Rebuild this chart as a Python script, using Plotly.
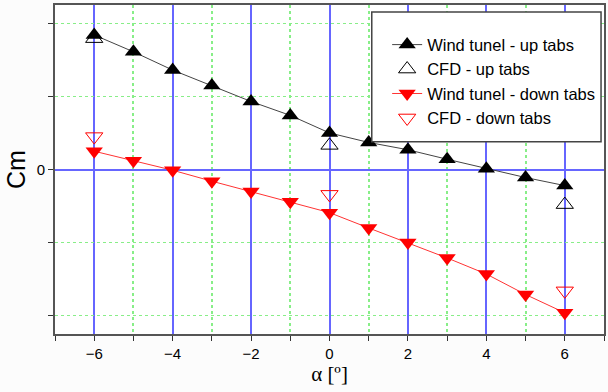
import plotly.graph_objects as go

alpha = [-6, -5, -4, -3, -2, -1, 0, 1, 2, 3, 4, 5, 6]
wt_up = [1.84, 1.61, 1.36, 1.15, 0.93, 0.74, 0.50, 0.37, 0.27, 0.14, 0.01, -0.11, -0.22]
wt_down = [0.25, 0.12, -0.01, -0.16, -0.30, -0.44, -0.59, -0.80, -1.00, -1.21, -1.43, -1.71, -1.96]
cfd_alpha = [-6, 0, 6]
cfd_up = [1.79, 0.33, -0.48]
cfd_down = [0.45, -0.34, -1.66]
x_ticks = [-6, -4, -2, 0, 2, 4, 6]
y_ticks = [-2, -1, 0, 1, 2]
y_ticktext = ["", "", "0", "", ""]

FONT = "Liberation Sans, Arial, sans-serif"
SERIF = "Liberation Serif, Times New Roman, serif"

fig = go.Figure()
fig.add_trace(go.Scatter(x=alpha, y=wt_up, mode="lines+markers", name="Wind tunel - up tabs",
                         line=dict(color="#444444", width=1),
                         marker=dict(symbol="triangle-up", size=15, color="black")))
fig.add_trace(go.Scatter(x=cfd_alpha, y=cfd_up, mode="markers", name="CFD - up tabs",
                         marker=dict(symbol="triangle-up-open", size=15, color="black",
                                     line=dict(width=1))))
fig.add_trace(go.Scatter(x=alpha, y=wt_down, mode="lines+markers", name="Wind tunel - down tabs",
                         line=dict(color="#ff3333", width=1),
                         marker=dict(symbol="triangle-down", size=15, color="red")))
fig.add_trace(go.Scatter(x=cfd_alpha, y=cfd_down, mode="markers", name="CFD - down tabs",
                         marker=dict(symbol="triangle-down-open", size=15, color="red",
                                     line=dict(width=1))))

# legend frame (white box with border)
fig.add_shape(type="rect", xref="paper", yref="paper",
              x0=0.577, x1=0.9946, y0=0.584, y1=0.9787,
              line=dict(color="#444444", width=1.5), fillcolor="white",
              opacity=1, layer="above")

fig.update_layout(
    width=608, height=392,
    margin=dict(l=55, r=2, t=5, b=58),
    paper_bgcolor="#fcfcfc", plot_bgcolor="white",
    font=dict(family=FONT, size=14, color="black"),
    showlegend=True,
    legend=dict(x=0.605, y=0.932, xanchor="left", yanchor="top",
                bgcolor="white", borderwidth=0,
                font=dict(size=16.5, family=FONT), tracegroupgap=0,
                itemwidth=30),
    xaxis=dict(range=[-7, 7], tickvals=x_ticks, ticks="outside", ticklen=5,
               tickcolor="#333", showline=True, linecolor="#555555", linewidth=2,
               mirror=True, showgrid=True, gridcolor="#6666ff", gridwidth=1.5,
               zeroline=True, zerolinecolor="#6666ff", zerolinewidth=1.5,
               minor=dict(dtick=1, tick0=0, showgrid=True, gridcolor="#88ee88",
                          griddash="dot", ticks="outside", ticklen=5, tickcolor="#333"),
               title=dict(text="α [º]", font=dict(size=21, family=SERIF), standoff=4),
               tickfont=dict(size=15)),
    yaxis=dict(range=[-2.25, 2.25], tickvals=y_ticks, ticktext=y_ticktext,
               ticks="outside", ticklen=5, tickcolor="#333",
               showline=True, linecolor="#555555", linewidth=2, mirror=True,
               showgrid=True, gridcolor="#88ee88", griddash="dot",
               zeroline=True, zerolinecolor="#6666ff", zerolinewidth=1.5,
               title=dict(text="Cm", font=dict(size=25, family=FONT), standoff=4),
               tickfont=dict(size=15)),
)

fig.write_html("out.html", config={"displayModeBar": False},
               post_script="document.body.style.margin='0';document.body.style.padding='0';")
